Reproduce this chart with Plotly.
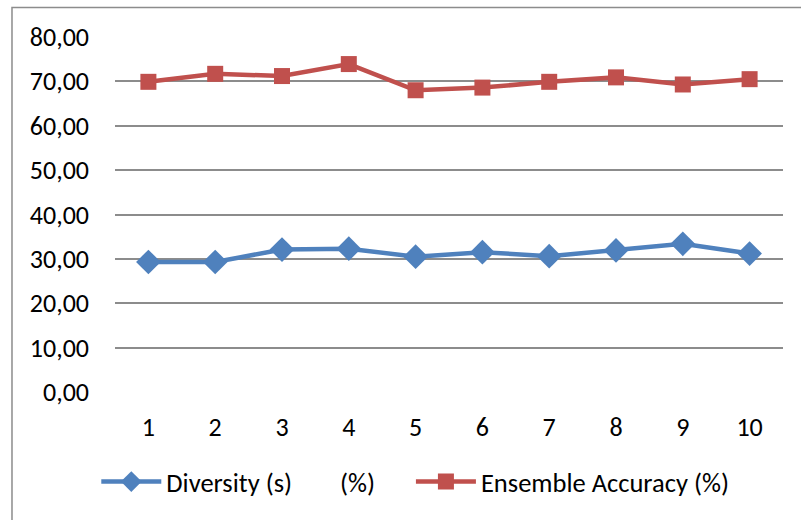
import plotly.graph_objects as go

categories = ["1", "2", "3", "4", "5", "6", "7", "8", "9", "10"]
diversity = [29.3, 29.3, 32.1, 32.3, 30.5, 31.5, 30.6, 31.9, 33.4, 31.2]
accuracy = [69.9, 71.7, 71.2, 73.9, 68.0, 68.6, 69.9, 70.9, 69.3, 70.5]
y_ticks = [0, 10, 20, 30, 40, 50, 60, 70, 80]

FONT = "Carlito, Calibri, Lato, sans-serif"

fig = go.Figure()
fig.add_trace(go.Scatter(
    x=categories, y=diversity, mode="lines+markers",
    name="Diversity (s)\u00a0\u00a0\u00a0\u00a0\u00a0\u00a0\u00a0\u00a0(%)",
    line=dict(color="#4F81BD", width=4.5),
    marker=dict(symbol="diamond", size=19, color="#4F81BD"),
    legend="legend",
))
fig.add_trace(go.Scatter(
    x=categories, y=accuracy, mode="lines+markers",
    name="Ensemble Accuracy (%)",
    line=dict(color="#C0504D", width=4.5),
    marker=dict(symbol="square", size=16, color="#C0504D"),
    legend="legend2",
))

legend_common = dict(orientation="h", xanchor="left", y=-0.253, yanchor="middle",
                     font=dict(size=26.5), itemwidth=60, bgcolor="rgba(0,0,0,0)")

fig.update_layout(
    width=801, height=520,
    margin=dict(l=115, r=18, t=37, b=128),
    paper_bgcolor="white", plot_bgcolor="white",
    font=dict(family=FONT, size=26, color="black"),
    separators=",.",
    showlegend=True,
    legend=dict(x=-0.028, **legend_common),
    legend2=dict(x=0.443, **legend_common),
    xaxis=dict(type="category", range=[-0.5, 9.5], showgrid=False, zeroline=False,
               showline=False, ticks="", ticklabelstandoff=17, tickfont=dict(size=26)),
    yaxis=dict(range=[0, 80], tickvals=y_ticks, tickformat=".2f",
               showgrid=True, gridcolor="#8C8C8C", gridwidth=1.5,
               zeroline=False, showline=False, ticks="", ticklabelstandoff=25,
               tickfont=dict(size=26)),
    shapes=[dict(type="rect", xref="paper", yref="paper",
                 x0=-0.1542, x1=1.04, y0=-0.38, y1=1.0831,
                 line=dict(color="#8C8C8C", width=1.5), fillcolor="rgba(0,0,0,0)",
                 layer="below")],
)

fig.write_html("out.html", config={"displayModeBar": False},
               post_script="document.body.style.margin='0';")
